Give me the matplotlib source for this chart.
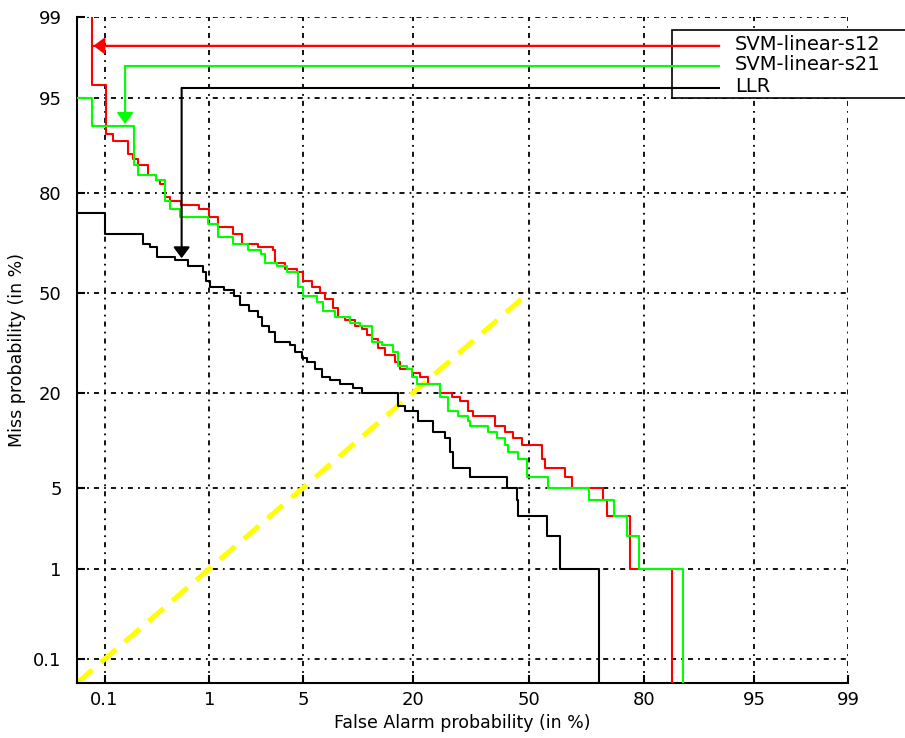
import math
import numpy as np
import matplotlib
matplotlib.use("Agg")
import matplotlib.pyplot as plt
from matplotlib.patches import Rectangle

plt.rcParams['font.family'] = ['DejaVu Sans']

# DET curves (false alarm %, miss %), step corners
red_pfa = [0.073, 0.073, 0.103, 0.122, 0.175, 0.196, 0.221, 0.276, 0.329, 0.358,
           0.401, 0.445, 0.562, 0.82, 1.0, 1.17, 1.55, 1.85, 2.41, 3.15,
           3.25, 3.81, 4.59, 5.0, 5.74, 6.44, 6.90, 7.73, 8.25, 9.07,
           10.3, 11.2, 12.0, 12.7, 13.6, 14.8, 16.5, 17.4, 19.8, 21.4,
           23.1, 25.9, 28.8, 30.8, 32.9, 34.2, 40.3, 43.1, 45.4, 48.0,
           53.8, 54.6, 60.3, 62.3, 70.5, 71.5, 76.9, 85.2]
red_pmiss = [100, 96, 91, 90, 88, 87, 86, 84, 83, 82,
             79, 78, 77, 76, 74, 71, 69, 66, 65, 64,
             60, 58, 57, 54, 52, 50, 48, 45, 42, 41,
             39, 38, 36, 35, 32, 30, 28, 26, 25, 24,
             22, 20, 19, 18, 16, 15, 13, 12, 11, 10,
             8, 7, 6, 5, 4, 3, 1, 0]

green_pfa = [0.04, 0.073, 0.201, 0.221, 0.329, 0.401, 0.445, 0.551, 0.966, 1.17,
             1.55, 2.03, 2.54, 2.75, 3.35, 3.94, 4.66, 5.0, 6.18, 6.71,
             7.92, 9.65, 10.98, 12.7, 14.28, 16.15, 17.06, 18.77, 19.77, 20.77,
             25.9, 27.8, 30.3, 32.87, 33.4, 38.3, 40.8, 43.1, 43.9, 46.8,
             49.4, 55.5, 67.1, 73.4, 76.2, 79.0, 87.0]
green_pmiss = [95, 92, 86, 84, 83, 78, 76, 74, 72, 68,
               66, 64, 63, 60, 59, 57, 52, 49, 47, 44,
               42, 40, 39, 34, 33, 31, 27, 26, 24, 22,
               19, 16, 15, 14, 13, 12, 11, 10, 9, 8,
               6, 5, 4, 3, 2, 1, 0]

llr_pfa = [0.04, 0.1, 0.246, 0.289, 0.342, 0.494, 0.647, 0.875, 0.93, 1.02,
           1.33, 1.6, 1.78, 2.09, 2.41, 2.62, 2.94, 3.25, 4.11, 4.44,
           4.94, 5.3, 5.98, 6.62, 7.4, 8.46, 10.0, 11.23, 17.06, 18.35,
           21.0, 24.26, 27.07, 28.27, 29.0, 33.4, 43.6, 46.5, 46.8, 55.2,
           58.9, 69.5]
llr_pmiss = [75, 69, 66, 65, 62, 61, 59, 57, 54, 52,
             51, 49, 46, 44, 42, 39, 37, 34, 33, 31,
             29, 28, 26, 24, 23, 22, 21, 20, 17, 16,
             14, 12, 11, 9, 7, 6, 5, 4, 3, 2,
             1, 0]

# equal error line
eer_x = [0.05, 50]
eer_y = [0.05, 50]

tick_vals = [0.1, 1, 5, 20, 50, 80, 95, 99]
tick_labels = ['0.1', '1', '5', '20', '50', '80', '95', '99']

names = ['SVM-linear-s12', 'SVM-linear-s21', 'LLR']
colors = ['#ff0000', '#00ff00', '#000000']

# legend pointer lines: start in legend, corner, arrow tip (in %)
leg_x = 91.75
ptr_y = [98.14, 97.22, 95.8]
ptr_corner_x = [0.076, 0.164, 0.573]
ptr_tip_y = [98.14, 92.3, 61.5]


# normal deviate scale
_A = [-3.969683028665376e+01, 2.209460984245205e+02, -2.759285104469687e+02,
      1.383577518672690e+02, -3.066479806614716e+01, 2.506628277459239e+00]
_B = [-5.447609879822406e+01, 1.615858368580409e+02, -1.556989798598866e+02,
      6.680131188771972e+01, -1.328068155288572e+01]
_C = [-7.784894002430293e-03, -3.223964580411365e-01, -2.400758277161838e+00,
      -2.549732539343734e+00, 4.374664141464968e+00, 2.938163982698783e+00]
_D = [7.784695709041462e-03, 3.224671290700398e-01, 2.445134137142996e+00,
      3.754408661907416e+00]


def _tail(p):
    q = np.sqrt(-2 * np.log(p))
    num = ((((_C[0] * q + _C[1]) * q + _C[2]) * q + _C[3]) * q + _C[4]) * q + _C[5]
    den = (((_D[0] * q + _D[1]) * q + _D[2]) * q + _D[3]) * q + 1
    return num / den


def ppf(p):
    shape = np.shape(p)
    p = np.clip(np.atleast_1d(np.asarray(p, float)).ravel(), 1e-9, 1 - 1e-9)
    out = np.empty_like(p)
    lo = p < 0.02425
    hi = p > 1 - 0.02425
    mid = ~(lo | hi)
    out[lo] = _tail(p[lo])
    out[hi] = -_tail(1 - p[hi])
    q = p[mid] - 0.5
    r = q * q
    num = (((((_A[0] * r + _A[1]) * r + _A[2]) * r + _A[3]) * r + _A[4]) * r + _A[5]) * q
    den = ((((_B[0] * r + _B[1]) * r + _B[2]) * r + _B[3]) * r + _B[4]) * r + 1
    out[mid] = num / den
    return out.reshape(shape)


_erf = np.vectorize(math.erf, otypes=[float])


def forward(pct):
    return ppf(np.asarray(pct, float) / 100.0)


def inverse(z):
    return 50.0 * (1.0 + _erf(np.asarray(z, float) / math.sqrt(2)))


fig = plt.figure(figsize=(9.05, 7.38), dpi=100)
ax = fig.add_axes([0.0851, 0.0745, 0.8519, 0.9024])
ax.set_xscale('function', functions=(forward, inverse))
ax.set_yscale('function', functions=(forward, inverse))

ax.plot(eer_x, eer_y, color='#ffff00', lw=3.6, ls=(0, (4.0, 2.3)),
        solid_capstyle='butt', dash_capstyle='butt', zorder=2)
for xs, ys, c in [(red_pfa, red_pmiss, colors[0]),
                  (green_pfa, green_pmiss, colors[1]),
                  (llr_pfa, llr_pmiss, colors[2])]:
    ax.plot(xs, ys, drawstyle='steps-post', color=c, lw=1.5, zorder=3)

ax.set_xlim(0.05, 99)
ax.set_ylim(0.05, 99)
ax.set_xticks(tick_vals)
ax.set_xticklabels(tick_labels)
ax.set_yticks(tick_vals)
ax.set_yticklabels(tick_labels)
ax.minorticks_off()
ax.tick_params(direction='in', length=6, width=1.5, labelsize=13,
               top=False, right=False)
ax.tick_params(axis='x', pad=6)
ax.tick_params(axis='y', pad=11)
ax.grid(True, color='k', lw=1.3, ls=(0, (2.8, 2.8, 1.0, 2.8)))
for s in ['top', 'right']:
    ax.spines[s].set_visible(False)
for s in ['left', 'bottom']:
    ax.spines[s].set_linewidth(1.5)

ax.set_xlabel('False Alarm probability (in %)', fontsize=12.5)
ax.set_ylabel('Miss probability (in %)', fontsize=12.5)
ax.xaxis.set_label_coords(0.5, -0.047)
ax.yaxis.set_label_coords(-0.066, 0.5)

# legend box running off the right edge
ax.add_patch(Rectangle((0.772, 0.878), 0.5, 0.1025, transform=ax.transAxes,
                       facecolor='white', edgecolor='k', lw=1.2,
                       clip_on=False, zorder=5))
text_y = [0.9595, 0.9294, 0.8964]
for i in range(3):
    ax.text(0.8534, text_y[i], names[i], transform=ax.transAxes, fontsize=14,
            ha='left', va='center', zorder=7, clip_on=False)
    ax.plot([leg_x, ptr_corner_x[i]], [ptr_y[i], ptr_y[i]], color=colors[i],
            lw=1.5, zorder=6, clip_on=False)
    ax.annotate('', xy=(ptr_corner_x[i], ptr_tip_y[i]),
                xytext=(ptr_corner_x[i] if i else leg_x, ptr_y[i]),
                arrowprops=dict(arrowstyle='-|>,head_length=0.6,head_width=0.45',
                                color=colors[i], lw=1.5, shrinkA=0, shrinkB=0,
                                mutation_scale=11),
                zorder=6)

fig.savefig('out.png', dpi=100)
